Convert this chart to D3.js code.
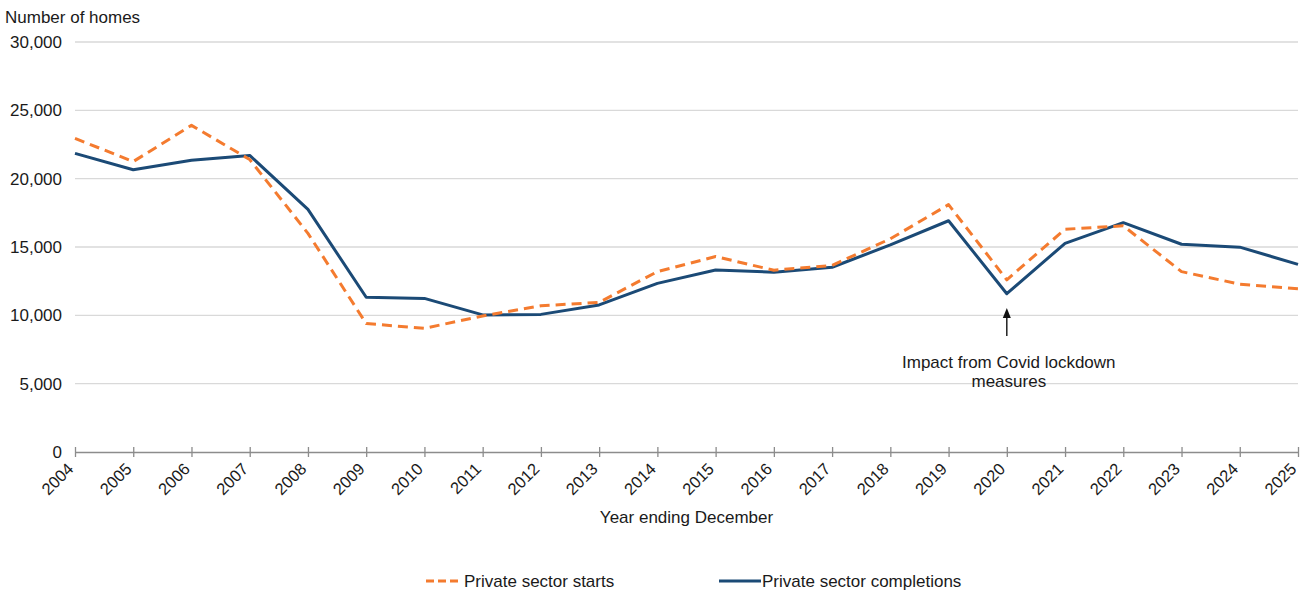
<!DOCTYPE html>
<html>
<head>
<meta charset="utf-8">
<script src="https://cdn.jsdelivr.net/npm/d3@7"></script>
<style>
  html, body { margin: 0; padding: 0; background: #fff; }
  svg { display: block; font-family: "Liberation Sans", Arial, sans-serif; }
</style>
</head>
<body>
<svg id="chart" width="1310" height="592"></svg>
<script>
// Years (year ending December)
const years = [2004, 2005, 2006, 2007, 2008, 2009, 2010, 2011, 2012, 2013, 2014,
               2015, 2016, 2017, 2018, 2019, 2020, 2021, 2022, 2023, 2024, 2025];

// Private sector starts (number of homes)
const starts = [22950, 21250, 23900, 21400, 16000, 9400, 9050, 9950, 10700, 10950, 13200,
                14300, 13300, 13650, 15600, 18100, 12600, 16300, 16550, 13200, 12280, 11950];

// Private sector completions (number of homes)
const completions = [21850, 20650, 21350, 21700, 17750, 11320, 11240, 10030, 10070, 10760, 12340,
                     13320, 13160, 13520, 15150, 16920, 11580, 15270, 16780, 15200, 14990, 13730];

const yTicks = [0, 5000, 10000, 15000, 20000, 25000, 30000];

const svg = d3.select("#chart");
const margin = { left: 75, right: 12, top: 42, bottom: 140 };
const W = 1310, H = 592;

const x = d3.scaleLinear()
  .domain([d3.min(years), d3.max(years)])
  .range([margin.left, W - margin.right]);
const y = d3.scaleLinear()
  .domain([0, 30000])
  .range([H - margin.bottom, margin.top]);

const textColor = "#1a1a1a";
const font = "Liberation Sans, Arial, sans-serif";

// Horizontal gridlines
svg.append("g")
  .selectAll("line")
  .data(yTicks.filter(d => d > 0))
  .join("line")
  .attr("x1", x.range()[0]).attr("x2", x.range()[1])
  .attr("y1", d => y(d)).attr("y2", d => y(d))
  .attr("stroke", "#d9d9d9").attr("stroke-width", 1.3);

// Y axis labels
const yAxis = svg.append("g")
  .attr("transform", `translate(${margin.left},0)`)
  .call(d3.axisLeft(y).tickValues(yTicks).tickSize(0).tickPadding(13)
    .tickFormat(d3.format(",")));
yAxis.select(".domain").remove();
yAxis.selectAll("text")
  .attr("font-size", 17).attr("fill", textColor)
  .attr("font-family", font);

// X axis with ticks crossing the baseline
const xAxis = svg.append("g")
  .attr("transform", `translate(0,${y(0)})`)
  .call(d3.axisBottom(x).tickValues(years).tickFormat(d3.format("d"))
    .tickSizeInner(6).tickSizeOuter(0).tickPadding(4));
xAxis.select(".domain").attr("stroke", "#8c8c8c").attr("stroke-width", 1.5);
xAxis.selectAll(".tick line")
  .attr("stroke", "#8c8c8c").attr("stroke-width", 1.3)
  .attr("y1", -5).attr("y2", 5);
xAxis.selectAll(".tick text")
  .attr("font-size", 16.5).attr("fill", textColor)
  .attr("font-family", font)
  .attr("text-anchor", "end")
  .attr("x", 0).attr("y", 0)
  .attr("dy", null)
  .attr("transform", "translate(-1,18) rotate(-45)");

// Axis titles
svg.append("text")
  .attr("x", 5).attr("y", 23)
  .attr("font-size", 17).attr("fill", textColor)
  .text("Number of homes");

svg.append("text")
  .attr("x", (x.range()[0] + x.range()[1]) / 2).attr("y", 523)
  .attr("text-anchor", "middle")
  .attr("font-size", 17).attr("fill", textColor)
  .text("Year ending December");

// Series lines
const line = (vals) => d3.line()
  .x((d, i) => x(years[i]))
  .y(d => y(d))(vals);

svg.append("path")
  .attr("d", line(completions))
  .attr("fill", "none")
  .attr("stroke", "#1b4a76")
  .attr("stroke-width", 3)
  .attr("stroke-linejoin", "round");

svg.append("path")
  .attr("d", line(starts))
  .attr("fill", "none")
  .attr("stroke", "#f47b2f")
  .attr("stroke-width", 3)
  .attr("stroke-dasharray", "10,6")
  .attr("stroke-linejoin", "round");

// Covid annotation: arrow pointing up at 2020
const covidYear = 2020;
const ax = x(covidYear);
svg.append("line")
  .attr("x1", ax).attr("x2", ax)
  .attr("y1", 336).attr("y2", 314)
  .attr("stroke", "#111").attr("stroke-width", 1.4);
svg.append("path")
  .attr("d", `M${ax - 4},${318} L${ax},${308} L${ax + 4},${318} Z`)
  .attr("fill", "#111");

const ann = svg.append("text")
  .attr("y", 368)
  .attr("text-anchor", "middle")
  .attr("font-size", 17).attr("fill", textColor);
ann.append("tspan").attr("x", ax + 2).attr("dy", 0).text("Impact from Covid lockdown");
ann.append("tspan").attr("x", ax + 2).attr("dy", 19).text("measures");

// Legend
const legend = svg.append("g").attr("transform", "translate(0,581)");
legend.append("line")
  .attr("x1", 426).attr("x2", 462).attr("y1", 0).attr("y2", 0)
  .attr("stroke", "#f47b2f").attr("stroke-width", 3)
  .attr("stroke-dasharray", "8,4");
legend.append("text")
  .attr("x", 464).attr("y", 6)
  .attr("font-size", 17).attr("fill", textColor)
  .text("Private sector starts");
legend.append("line")
  .attr("x1", 719).attr("x2", 761).attr("y1", 0).attr("y2", 0)
  .attr("stroke", "#1b4a76").attr("stroke-width", 3);
legend.append("text")
  .attr("x", 762).attr("y", 6)
  .attr("font-size", 17).attr("fill", textColor)
  .text("Private sector completions");
</script>
</body>
</html>
